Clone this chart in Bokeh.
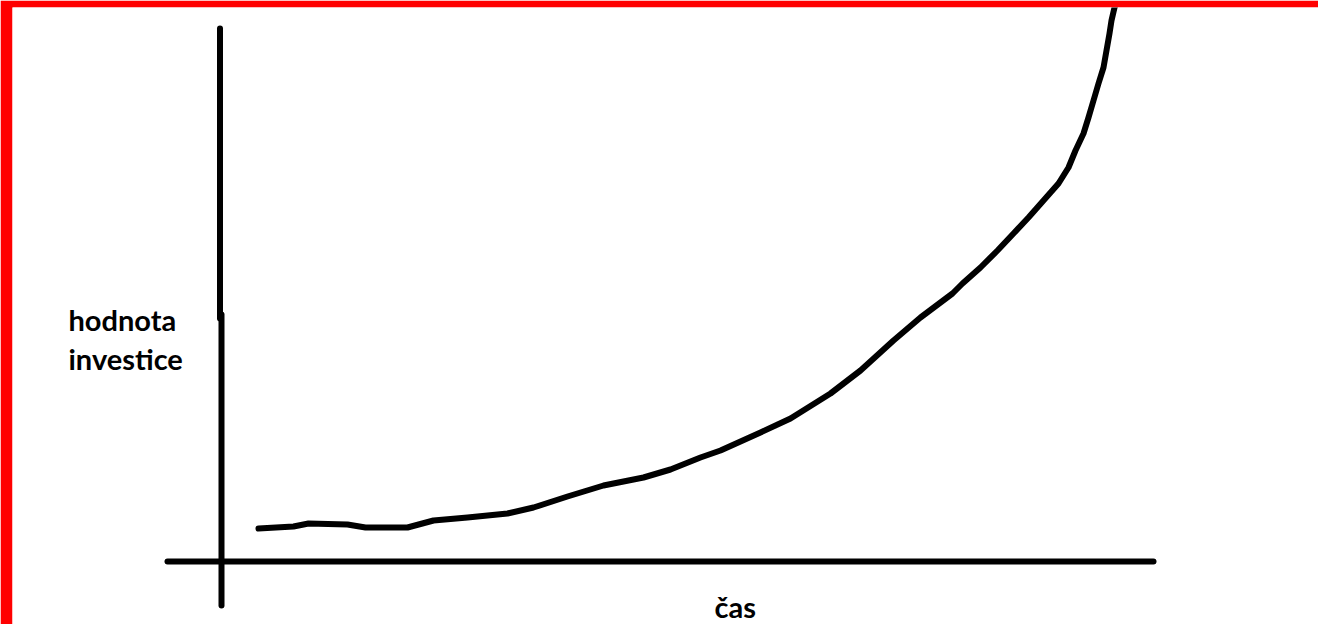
from bokeh.plotting import figure
from bokeh.models import Range1d
from bokeh.core.properties import value
from bokeh.embed import file_html
from bokeh.resources import INLINE

# --- data (time units, investment value units; origin at axes crossing) ---
cas = [3.9, 7.4, 8.9, 12.8, 14.6, 18.8, 21.4, 24.8, 28.8, 31.4, 34.8, 38.4,
       42.4, 45.1, 48.1, 50.1, 54.1, 57.1, 61.1, 64.1, 67.4, 70.1, 73.3,
       74.3, 76.1, 77.8, 79.4, 80.9, 82.4, 83.9, 84.9, 85.6, 86.4, 86.9,
       87.4, 87.9, 88.4, 88.7, 89.0, 89.2, 89.5, 89.8]
hodnota = [3.3, 3.5, 3.8, 3.7, 3.4, 3.4, 4.1, 4.4, 4.8, 5.4, 6.5, 7.6,
           8.4, 9.2, 10.4, 11.1, 12.9, 14.3, 16.8, 19.1, 22.1, 24.4, 26.8,
           27.8, 29.4, 31.1, 32.8, 34.4, 36.1, 37.8, 39.4, 41.1, 42.8, 44.4,
           46.1, 47.8, 49.4, 51.1, 52.8, 54.1, 55.4, 56.1]

# hand-drawn axes (two strokes for the vertical one, one for the horizontal)
vaxis_x0 = [0.05, 0.2]
vaxis_y0 = [53.3, 24.7]
vaxis_x1 = [0.05, 0.2]
vaxis_y1 = [24.3, -4.4]
haxis_x = [-5.2, 93.4]
haxis_y = [0.0, 0.0]

y_label_lines = ["hodnota", "investice"]
x_label = "čas"

p = figure(width=1318, height=624, output_backend="svg", toolbar_location=None,
           x_range=Range1d(-20.7, 109.9), y_range=Range1d(-6.3, 55.4))
p.min_border = 0
p.min_border_left = 12
p.min_border_top = 7
p.border_fill_color = "#ff0000"
p.background_fill_color = "white"
p.outline_line_color = None
p.axis.visible = False
p.grid.visible = False

p.segment(x0=vaxis_x0, y0=vaxis_y0, x1=vaxis_x1, y1=vaxis_y1,
          line_color="black", line_width=6, line_cap="round")
p.line(haxis_x, haxis_y, line_color="black", line_width=6, line_cap="round")
p.line(cas, hodnota, line_color="black", line_width=6,
       line_cap="round", line_join="round")

font = value("Lato")
p.text(x=[-15.1, -15.1], y=[24.2, 20.3], text=y_label_lines,
       text_font=font, text_font_style="bold", text_font_size="29px",
       text_color="black", text_baseline="alphabetic", text_align="left")
p.text(x=[49.5], y=[-6.2], text=[x_label],
       text_font=font, text_font_style="bold", text_font_size="29px",
       text_color="black", text_baseline="bottom", text_align="left")

open("out.html", "w").write(file_html(p, INLINE))
